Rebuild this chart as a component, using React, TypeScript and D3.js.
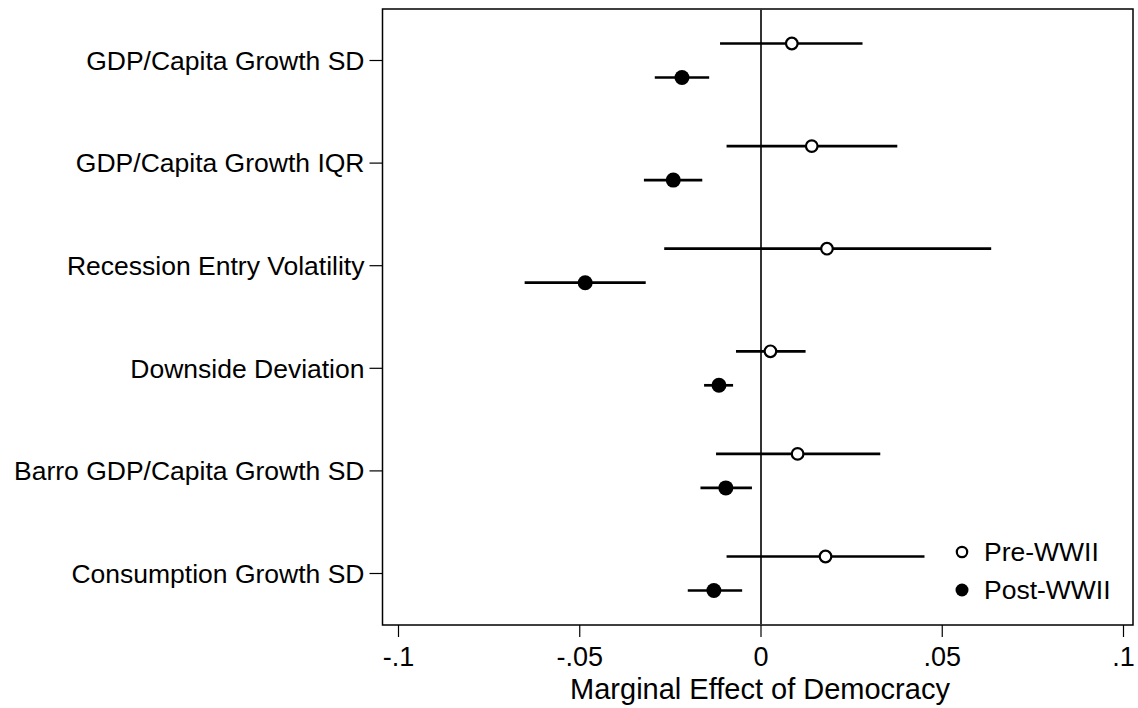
import React, { useEffect, useRef } from "react";
import * as d3 from "d3";

const categories = [
  "GDP/Capita Growth SD",
  "GDP/Capita Growth IQR",
  "Recession Entry Volatility",
  "Downside Deviation",
  "Barro GDP/Capita Growth SD",
  "Consumption Growth SD",
];

// Pre-WWII estimates and 95% interval
const preEst = [0.0085, 0.014, 0.0182, 0.0026, 0.0101, 0.0178];
const preLo = [-0.0113, -0.0095, -0.0267, -0.0069, -0.0124, -0.0095];
const preHi = [0.028, 0.0376, 0.0635, 0.0123, 0.0329, 0.0451];

// Post-WWII estimates and 95% interval
const postEst = [-0.0218, -0.0242, -0.0485, -0.0116, -0.0097, -0.013];
const postLo = [-0.0293, -0.0323, -0.0652, -0.0157, -0.0167, -0.0202];
const postHi = [-0.0143, -0.0162, -0.0318, -0.0077, -0.0025, -0.0052];

const xTicks = [-0.1, -0.05, 0, 0.05, 0.1];
const xTickLabels = ["-.1", "-.05", "0", ".05", ".1"];

const W = 1138;
const H = 708;

export default function App() {
  const ref = useRef<SVGSVGElement>(null);

  useEffect(() => {
    const svg = d3.select(ref.current);
    svg.selectAll("*").remove();

    const left = 382.5, right = 1133, top = 9, bottom = 625;
    const font = "'Liberation Sans', Arial, sans-serif";

    const x = d3.scaleLinear().domain([-0.1, 0.1]).range([398.5, 1123.5]);
    const y = d3
      .scalePoint<string>()
      .domain(categories)
      .range([60.5, 573.5]);
    const off = 17;

    // frame
    svg
      .append("rect")
      .attr("x", left)
      .attr("y", top)
      .attr("width", right - left)
      .attr("height", bottom - top)
      .attr("fill", "none")
      .attr("stroke", "#000")
      .attr("stroke-width", 1.5);

    // zero line
    svg
      .append("line")
      .attr("x1", x(0))
      .attr("x2", x(0))
      .attr("y1", top)
      .attr("y2", bottom)
      .attr("stroke", "#333")
      .attr("stroke-width", 2);

    // y axis ticks + labels
    const yg = svg.append("g");
    categories.forEach(c => {
      yg.append("line")
        .attr("x1", left - 13)
        .attr("x2", left)
        .attr("y1", y(c)!)
        .attr("y2", y(c)!)
        .attr("stroke", "#000")
        .attr("stroke-width", 1.2);
      yg.append("text")
        .attr("x", left - 18)
        .attr("y", y(c)!)
        .attr("dy", "0.35em")
        .attr("text-anchor", "end")
        .attr("font-family", font)
        .attr("font-size", 26.5)
        .attr("fill", "#000")
        .text(c);
    });

    // x axis ticks + labels
    const xg = svg.append("g");
    xTicks.forEach((t, i) => {
      xg.append("line")
        .attr("x1", x(t))
        .attr("x2", x(t))
        .attr("y1", bottom)
        .attr("y2", bottom + 12)
        .attr("stroke", "#000")
        .attr("stroke-width", 1.2);
      xg.append("text")
        .attr("x", x(t))
        .attr("y", bottom + 41)
        .attr("text-anchor", "middle")
        .attr("font-family", font)
        .attr("font-size", 27)
        .attr("fill", "#000")
        .text(xTickLabels[i]);
    });

    svg
      .append("text")
      .attr("x", 760)
      .attr("y", 699)
      .attr("text-anchor", "middle")
      .attr("font-family", font)
      .attr("font-size", 29)
      .attr("fill", "#000")
      .text("Marginal Effect of Democracy");

    const series = [
      { est: preEst, lo: preLo, hi: preHi, dy: -off, filled: false },
      { est: postEst, lo: postLo, hi: postHi, dy: off, filled: true },
    ];

    series.forEach(s => {
      const g = svg.append("g");
      categories.forEach((c, i) => {
        const yy = y(c)! + s.dy;
        g.append("line")
          .attr("x1", x(s.lo[i]))
          .attr("x2", x(s.hi[i]))
          .attr("y1", yy)
          .attr("y2", yy)
          .attr("stroke", "#000")
          .attr("stroke-width", 2.7);
        if (s.filled) {
          g.append("circle")
            .attr("cx", x(s.est[i]))
            .attr("cy", yy)
            .attr("r", 7.5)
            .attr("fill", "#000");
        } else {
          g.append("circle")
            .attr("cx", x(s.est[i]))
            .attr("cy", yy)
            .attr("r", 5.8)
            .attr("fill", "#fff")
            .attr("stroke", "#000")
            .attr("stroke-width", 2.2);
        }
      });
    });

    // legend
    const lg = svg.append("g");
    lg.append("circle")
      .attr("cx", 962)
      .attr("cy", 552)
      .attr("r", 5.2)
      .attr("fill", "#fff")
      .attr("stroke", "#000")
      .attr("stroke-width", 2.2);
    lg.append("text")
      .attr("x", 984)
      .attr("y", 552)
      .attr("dy", "0.35em")
      .attr("font-family", font)
      .attr("font-size", 26.5)
      .text("Pre-WWII");
    lg.append("circle")
      .attr("cx", 962)
      .attr("cy", 590)
      .attr("r", 6.5)
      .attr("fill", "#000");
    lg.append("text")
      .attr("x", 984)
      .attr("y", 590)
      .attr("dy", "0.35em")
      .attr("font-family", font)
      .attr("font-size", 26.5)
      .text("Post-WWII");
  }, []);

  return (
    <svg
      ref={ref}
      width={W}
      height={H}
      style={{ position: "absolute", left: 0, top: 0, background: "#fff" }}
    />
  );
}
